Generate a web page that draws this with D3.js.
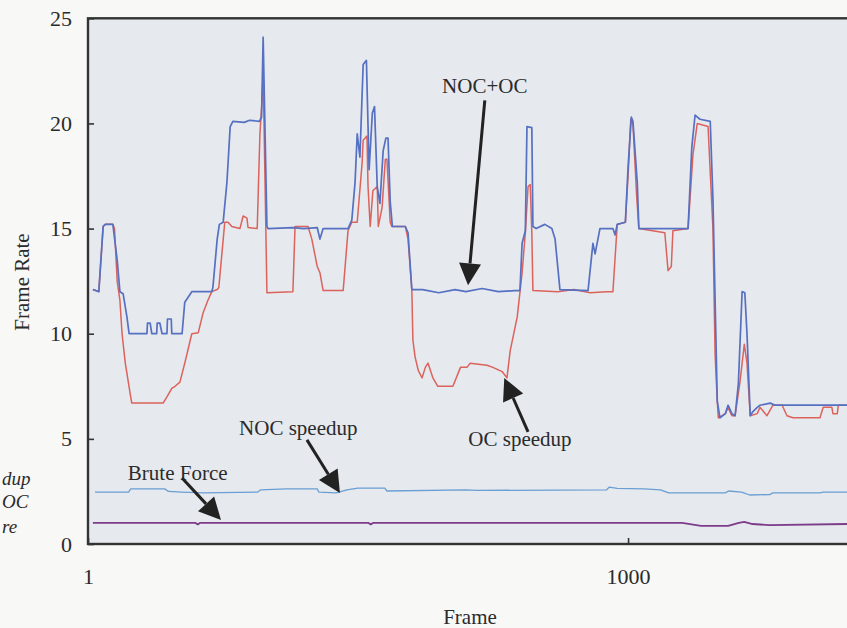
<!DOCTYPE html>
<html>
<head>
<meta charset="utf-8">
<script src="https://cdn.jsdelivr.net/npm/d3@7"></script>
<style>
  body { margin: 0; background: #f8f8f7; }
  svg { display: block; }
  text { font-family: "Liberation Serif", "DejaVu Serif", serif; fill: #2b2b2b; }
</style>
</head>
<body>
<svg id="chart" width="847" height="628"></svg>
<script>
// [frame, frame rate]
const nocPlusOc = [
  [10, 12.1], [21, 12.0], [29, 15.1], [33, 15.2], [47, 15.2], [55, 13.5], [60, 12.0], [66, 11.9],
  [73, 10.8], [77, 10.0], [110, 10.0], [111, 10.5], [116, 10.5], [119, 10.0], [128, 10.0],
  [129, 10.5], [134, 10.5], [138, 10.0], [147, 10.0], [148, 10.7], [155, 10.7], [156, 10.0],
  [175, 10.0], [180, 11.5], [193, 12.0], [230, 12.0], [232, 12.2], [240, 14.5], [244, 15.2],
  [251, 15.3], [258, 17.2], [264, 19.85], [269, 20.1], [290, 20.05], [300, 20.15], [318, 20.1],
  [322, 20.3], [325, 24.1], [332, 15.1], [334, 15.0], [380, 15.05], [400, 15.0], [425, 15.05],
  [430, 14.5], [436, 15.0], [482, 15.0], [489, 15.4], [495, 17.2], [499, 19.5], [504, 18.4],
  [510, 22.8], [516, 23.0], [521, 17.8], [527, 20.5], [531, 20.8], [536, 17.0], [541, 16.2],
  [547, 18.7], [552, 19.3], [556, 19.3], [560, 16.3], [564, 15.1], [588, 15.1], [593, 14.8],
  [600, 12.1], [620, 12.1], [650, 11.95], [680, 12.1], [700, 12.0], [730, 12.15], [760, 12.0],
  [790, 12.05], [800, 12.05], [804, 14.3], [810, 14.9], [813, 19.85], [822, 19.8], [824, 15.1],
  [830, 15.0], [846, 15.2], [859, 15.0], [865, 14.5], [874, 12.1], [926, 12.05], [935, 14.3],
  [939, 13.8], [948, 15.0], [972, 15.0], [976, 14.7], [980, 15.2], [995, 15.3], [1000, 17.9],
  [1006, 20.3], [1009, 20.1], [1017, 17.2], [1020, 15.0], [1111, 15.0], [1118, 18.9],
  [1124, 20.4], [1133, 20.2], [1152, 20.1], [1157, 16.4], [1161, 11.6], [1165, 6.8], [1170, 6.0],
  [1180, 6.2], [1185, 6.6], [1192, 6.2], [1198, 6.1], [1204, 7.6], [1211, 12.0], [1216, 11.95],
  [1220, 10.0], [1226, 6.1], [1231, 6.3], [1239, 6.5], [1244, 6.6], [1263, 6.7], [1272, 6.6],
  [1405, 6.6]
];

const ocSpeedup = [
  [10, 12.1], [21, 12.0], [29, 15.1], [33, 15.2], [47, 15.2], [50, 15.0], [55, 12.5], [60, 11.6],
  [64, 10.0], [70, 8.6], [79, 7.15], [82, 6.7], [140, 6.7], [147, 7.0], [156, 7.4], [162, 7.5],
  [171, 7.7], [180, 8.6], [193, 10.0], [205, 10.05], [214, 11.0], [223, 11.6], [230, 12.0],
  [240, 12.1], [243, 12.2], [254, 15.3], [260, 15.3], [267, 15.1], [282, 15.0], [288, 15.6],
  [295, 15.5], [297, 15.05], [314, 15.0], [319, 19.5], [323, 21.1], [325, 22.4], [332, 11.95],
  [380, 12.0], [384, 15.1], [408, 15.1], [415, 14.5], [425, 13.2], [430, 12.9], [436, 12.05],
  [473, 12.05], [482, 14.9], [489, 15.3], [499, 15.3], [508, 18.1], [510, 19.2], [517, 19.4],
  [519, 17.0], [523, 15.1], [528, 16.8], [536, 17.0], [538, 15.1], [545, 16.0], [551, 18.3],
  [554, 18.3], [560, 15.3], [563, 15.1], [588, 15.1], [593, 14.5], [600, 12.1], [602, 9.7],
  [606, 8.9], [612, 8.25], [619, 7.9], [625, 8.4], [630, 8.6], [639, 7.9], [648, 7.5], [676, 7.5],
  [690, 8.4], [702, 8.4], [708, 8.6], [739, 8.5], [750, 8.4], [767, 8.2], [776, 7.9], [782, 9.2],
  [795, 10.8], [804, 12.9], [810, 14.8], [815, 17.0], [819, 17.1], [822, 14.8], [824, 12.05],
  [870, 12.0], [900, 12.1], [930, 11.95], [960, 12.0], [972, 12.0], [976, 13.6], [980, 15.2],
  [995, 15.3], [1000, 17.5], [1005, 20.2], [1009, 20.0], [1016, 16.5], [1020, 15.0], [1068, 14.8],
  [1074, 13.0], [1080, 13.2], [1083, 14.9], [1111, 15.0], [1120, 18.5], [1128, 20.0],
  [1148, 19.85], [1157, 15.0], [1161, 9.0], [1165, 6.8], [1167, 6.0], [1180, 6.2], [1185, 6.5],
  [1192, 6.1], [1198, 6.1], [1207, 7.7], [1215, 9.5], [1220, 8.6], [1226, 6.1], [1239, 6.2],
  [1244, 6.5], [1257, 6.1], [1268, 6.6], [1285, 6.6], [1294, 6.1], [1305, 6.0], [1355, 6.0],
  [1361, 6.5], [1377, 6.5], [1379, 6.2], [1387, 6.2], [1389, 6.6], [1405, 6.6]
];

const nocSpeedup = [
  [14, 2.47], [76, 2.47], [80, 2.62], [143, 2.62], [150, 2.5], [174, 2.47], [215, 2.43],
  [315, 2.47], [320, 2.57], [367, 2.62], [425, 2.62], [428, 2.47], [460, 2.43], [480, 2.57],
  [500, 2.66], [550, 2.66], [554, 2.52], [700, 2.57], [720, 2.55], [960, 2.57], [965, 2.7],
  [980, 2.65], [1030, 2.62], [1060, 2.57], [1075, 2.43], [1180, 2.43], [1186, 2.52],
  [1210, 2.47], [1225, 2.33], [1262, 2.35], [1268, 2.43], [1355, 2.43], [1361, 2.47], [1405, 2.47]
];

const bruteForce = [
  [10, 1.0], [200, 1.0], [204, 0.93], [208, 1.0], [520, 1.0], [524, 0.93], [528, 1.0],
  [1100, 1.0], [1135, 0.86], [1185, 0.86], [1205, 1.0], [1215, 1.05], [1230, 0.95],
  [1262, 0.9], [1405, 0.95]
];

const yTicks = [0, 5, 10, 15, 20, 25];
const xTicks = [1, 1000];

// label text, label anchor [frame, value], arrow tail, arrow tip
const notes = [
  { text: "NOC+OC", at: [735, 21.45], from: [735, 21.1], to: [704, 12.3] },
  { text: "OC speedup", at: [800, 4.66], from: [815, 5.33], to: [771, 7.9] },
  { text: "NOC speedup", at: [390, 5.18], from: [406, 4.95], to: [467, 2.43] },
  { text: "Brute Force", at: [167, 3.04], from: [175, 3.14], to: [247, 1.14] }
];

const svg = d3.select("#chart");
const plotLeft = 88, plotTop = 18.3, plotBottom = 544, plotRight = 847;

const x = d3.scaleLinear().domain([1, 1405]).range([plotLeft, plotRight]);
const y = d3.scaleLinear().domain([0, 25]).range([plotBottom, plotTop]);

svg.append("rect")
  .attr("x", plotLeft).attr("y", plotTop)
  .attr("width", plotRight - plotLeft + 10).attr("height", plotBottom - plotTop)
  .attr("fill", "#e6e9ee");

let line = d3.line()
  .x(d => x(d[0]))
  .y(d => y(d[1]))
  .curve(d3.curveLinear);

const series = [
  { data: bruteForce, color: "#7d3c8a", w: 1.8 },
  { data: nocSpeedup, color: "#6a9fd3", w: 1.3 },
  { data: ocSpeedup, color: "#dc625c", w: 1.5 },
  { data: nocPlusOc, color: "#5670c2", w: 1.7 }
];

series.forEach(s => {
  svg.append("path")
    .datum(s.data)
    .attr("d", line)
    .attr("fill", "none")
    .attr("stroke", s.color)
    .attr("stroke-width", s.w)
    .attr("stroke-linejoin", "round");
});

// frame
svg.append("rect")
  .attr("x", plotLeft).attr("y", plotTop)
  .attr("width", plotRight - plotLeft + 10).attr("height", plotBottom - plotTop)
  .attr("fill", "none")
  .attr("stroke", "#333")
  .attr("stroke-width", 2.4);

let yaxis = svg.append("g")
  .attr("transform", "translate(" + plotLeft + ",0)")
  .call(d3.axisLeft(y).tickValues(yTicks).tickSizeInner(-6).tickSizeOuter(0).tickPadding(16));

let xaxis = svg.append("g")
  .attr("transform", "translate(0," + plotBottom + ")")
  .call(d3.axisBottom(x).tickValues(xTicks).tickFormat(d3.format("d")).tickSizeInner(-6).tickSizeOuter(0).tickPadding(24));

[yaxis, xaxis].forEach(g => {
  g.select(".domain").remove();
  g.selectAll(".tick line").attr("stroke", "#333").attr("stroke-width", 1.6);
  g.selectAll(".tick text")
    .attr("font-family", "Liberation Serif")
    .attr("font-size", 22)
    .attr("fill", "#2b2b2b");
});

svg.append("text")
  .attr("transform", "translate(29,282) rotate(-90)")
  .attr("text-anchor", "middle")
  .attr("font-size", 21)
  .text("Frame Rate");

svg.append("text")
  .attr("x", 470).attr("y", 624)
  .attr("text-anchor", "middle")
  .attr("font-size", 21)
  .text("Frame");

// annotations with arrows
notes.forEach(n => {
  svg.append("text")
    .attr("x", x(n.at[0])).attr("y", y(n.at[1]))
    .attr("text-anchor", "middle")
    .attr("font-size", 21)
    .attr("fill", "#1c1c1c")
    .text(n.text);

  let x0 = x(n.from[0]), y0 = y(n.from[1]);
  let x1 = x(n.to[0]), y1 = y(n.to[1]);
  let len = Math.hypot(x1 - x0, y1 - y0);
  let ux = (x1 - x0) / len, uy = (y1 - y0) / len;
  let hl = 22, hw = 11;
  let bx = x1 - ux * hl, by = y1 - uy * hl;

  svg.append("line")
    .attr("x1", x0).attr("y1", y0)
    .attr("x2", bx).attr("y2", by)
    .attr("stroke", "#222")
    .attr("stroke-width", 3);

  svg.append("path")
    .attr("d", "M" + x1 + "," + y1 +
      "L" + (bx - uy * hw) + "," + (by + ux * hw) +
      "L" + (bx + uy * hw) + "," + (by - ux * hw) + "Z")
    .attr("fill", "#222");
});

// bits of the neighbouring legend that show at the left edge of the scan
[["dup", 485], ["OC", 508], ["re", 533]].forEach(t => {
  svg.append("text")
    .attr("x", 2).attr("y", t[1])
    .attr("font-style", "italic")
    .attr("font-size", 19)
    .attr("fill", "#3a3a3a")
    .text(t[0]);
});
</script>
</body>
</html>
